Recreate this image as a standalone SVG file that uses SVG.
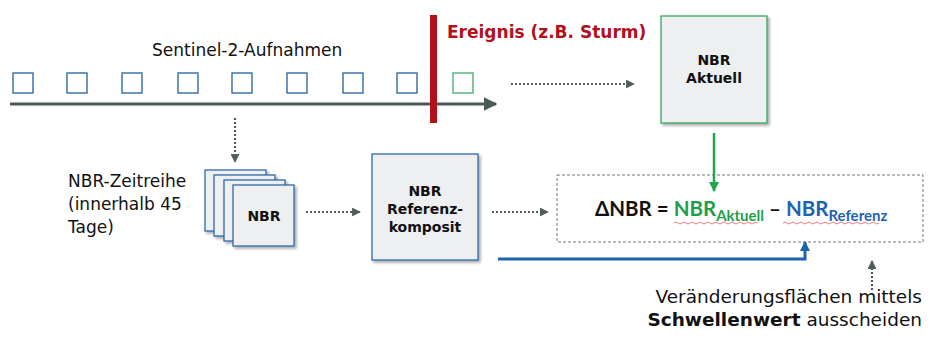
<svg xmlns="http://www.w3.org/2000/svg" width="933" height="341" viewBox="0 0 933 341">
  <style>
    .lbl { font-family: "DejaVu Sans", "Liberation Sans", sans-serif; fill: #111; }
    .box { font-family: "DejaVu Sans", "Liberation Sans", sans-serif; font-weight: bold; font-size: 14px; fill: #111; text-anchor: middle; }
    .frm { font-family: Lato, "Open Sans", "Liberation Sans", sans-serif; font-weight: bold; }
    .shot { fill: #fff; stroke: #2f6aa8; stroke-width: 1.4; }
    .card { fill: #eeeff1; stroke: #2f6aa8; stroke-width: 1.3; filter: url(#shadow); }
    .dot { fill: none; stroke: #4f5e58; stroke-width: 2.2; stroke-dasharray: 2 2; }
    .wave { fill: none; stroke: #e05a5a; stroke-width: 0.8; }
  </style>
  <defs>
    <filter id="shadow" x="-20%" y="-20%" width="150%" height="150%">
      <feGaussianBlur in="SourceAlpha" stdDeviation="1.5"/>
      <feOffset dx="1.5" dy="2" result="b"/>
      <feComponentTransfer><feFuncA type="linear" slope="0.35"/></feComponentTransfer>
      <feMerge><feMergeNode/><feMergeNode in="SourceGraphic"/></feMerge>
    </filter>
    <marker id="ahGrey" viewBox="0 0 10 10" refX="9" refY="5" markerWidth="4" markerHeight="4" orient="auto">
      <path d="M0,0 L10,5 L0,10 z" fill="#4f5e58"/>
    </marker>
    <marker id="ahLine" viewBox="0 0 10 10" refX="9" refY="5" markerWidth="4.5" markerHeight="4.5" orient="auto">
      <path d="M0,0 L10,5 L0,10 z" fill="#4a5a54"/>
    </marker>
    <marker id="ahGreen" viewBox="0 0 10 10" refX="9" refY="5" markerWidth="4" markerHeight="4" orient="auto">
      <path d="M0,0 L10,5 L0,10 z" fill="#21a54a"/>
    </marker>
    <marker id="ahBlue" viewBox="0 0 10 10" refX="9" refY="5" markerWidth="3.5" markerHeight="3.5" orient="auto">
      <path d="M0,0 L10,5 L0,10 z" fill="#1f63b0"/>
    </marker>
  </defs>

  <!-- time axis with acquisitions -->
  <g id="timeline">
    <text class="lbl" x="152" y="56" font-size="17">Sentinel-2-Aufnahmen</text>
    <line x1="10" y1="104" x2="496" y2="104" stroke="#4a5a54" stroke-width="3" marker-end="url(#ahLine)"/>
    <rect class="shot" x="13" y="73" width="20" height="20"/>
    <rect class="shot" x="67" y="73" width="20" height="20"/>
    <rect class="shot" x="122" y="73" width="20" height="20"/>
    <rect class="shot" x="178" y="73" width="20" height="20"/>
    <rect class="shot" x="232" y="73" width="20" height="20"/>
    <rect class="shot" x="287" y="73" width="20" height="20"/>
    <rect class="shot" x="343" y="73" width="20" height="20"/>
    <rect class="shot" x="397" y="73" width="20" height="20"/>
    <rect class="shot" x="453" y="73" width="20" height="20" style="stroke:#4fb075"/>
  </g>

  <!-- event marker -->
  <g id="event">
    <rect x="430" y="15" width="7" height="108" fill="#b3101b"/>
    <text x="447" y="38" font-family="DejaVu Sans, Liberation Sans, sans-serif" font-weight="bold" font-size="17" fill="#b3101b">Ereignis (z.B. Sturm)</text>
  </g>

  <g id="nbr-aktuell">
    <rect class="card" x="661" y="16" width="106" height="107" style="stroke:#3aa35a"/>
    <text class="box" x="714" y="65">NBR</text>
    <text class="box" x="714" y="83">Aktuell</text>
  </g>

  <g id="nbr-zeitreihe">
    <text class="lbl" font-size="17" x="68" y="187">NBR-Zeitreihe</text>
    <text class="lbl" font-size="17" x="68" y="210">(innerhalb 45</text>
    <text class="lbl" font-size="17" x="68" y="233">Tage)</text>
    <rect class="card" x="205" y="170" width="61" height="61"/>
    <rect class="card" x="214" y="175" width="61" height="61"/>
    <rect class="card" x="224" y="180" width="61" height="61"/>
    <rect class="card" x="233" y="185" width="61" height="61"/>
    <text class="box" x="264" y="221">NBR</text>
  </g>

  <g id="nbr-referenz">
    <rect class="card" x="372" y="154" width="106" height="106"/>
    <text class="box" x="425" y="196">NBR</text>
    <text class="box" x="425" y="214">Referenz-</text>
    <text class="box" x="425" y="232">komposit</text>
  </g>

  <g id="delta-nbr">
    <rect x="557" y="175" width="366" height="67" fill="none" stroke="#777" stroke-width="1" stroke-dasharray="3 2"/>
    <text class="frm" x="595" y="216" font-size="20.5" fill="#111">ΔNBR = <tspan fill="#1ea04a">NBR<tspan font-size="15" dy="5">Aktuell</tspan></tspan><tspan dy="-5"> – </tspan><tspan fill="#1f63b0">NBR<tspan font-size="15" dy="5">Referenz</tspan></tspan></text>
    <path class="wave" d="M674,223 q2,-2 4,0 t4,0 t4,0 t4,0 t4,0 t4,0 t4,0 t4,0 t4,0 t4,0 t4,0 t4,0 t4,0 t4,0 t4,0 t4,0 t4,0 t4,0 t4,0 t4,0 t4,0"/>
    <path class="wave" d="M783,223 q2,-2 4,0 t4,0 t4,0 t4,0 t4,0 t4,0 t4,0 t4,0 t4,0 t4,0 t4,0 t4,0 t4,0 t4,0 t4,0 t4,0 t4,0 t4,0 t4,0 t4,0 t4,0 t4,0 t4,0 t4,0"/>
  </g>

  <g id="schwellenwert">
    <text class="lbl" font-size="18.5" x="922" y="303" text-anchor="end">Veränderungsflächen mittels</text>
    <text class="lbl" font-size="18.5" x="922" y="326" text-anchor="end"><tspan font-weight="bold">Schwellenwert</tspan> ausscheiden</text>
  </g>

  <g id="connectors">
    <line class="dot" x1="511" y1="84" x2="634" y2="84" marker-end="url(#ahGrey)"/>
    <line class="dot" x1="235" y1="118" x2="235" y2="162" marker-end="url(#ahGrey)"/>
    <line class="dot" x1="306" y1="212" x2="360" y2="212" marker-end="url(#ahGrey)"/>
    <line class="dot" x1="492" y1="212" x2="548" y2="212" marker-end="url(#ahGrey)"/>
    <line class="dot" x1="872" y1="290" x2="872" y2="261" marker-end="url(#ahGrey)"/>
    <line x1="714" y1="133" x2="714" y2="191" stroke="#21a54a" stroke-width="2.5" marker-end="url(#ahGreen)"/>
    <path d="M498,259 H805 V242" fill="none" stroke="#1f63b0" stroke-width="3" marker-end="url(#ahBlue)"/>
  </g>
</svg>
